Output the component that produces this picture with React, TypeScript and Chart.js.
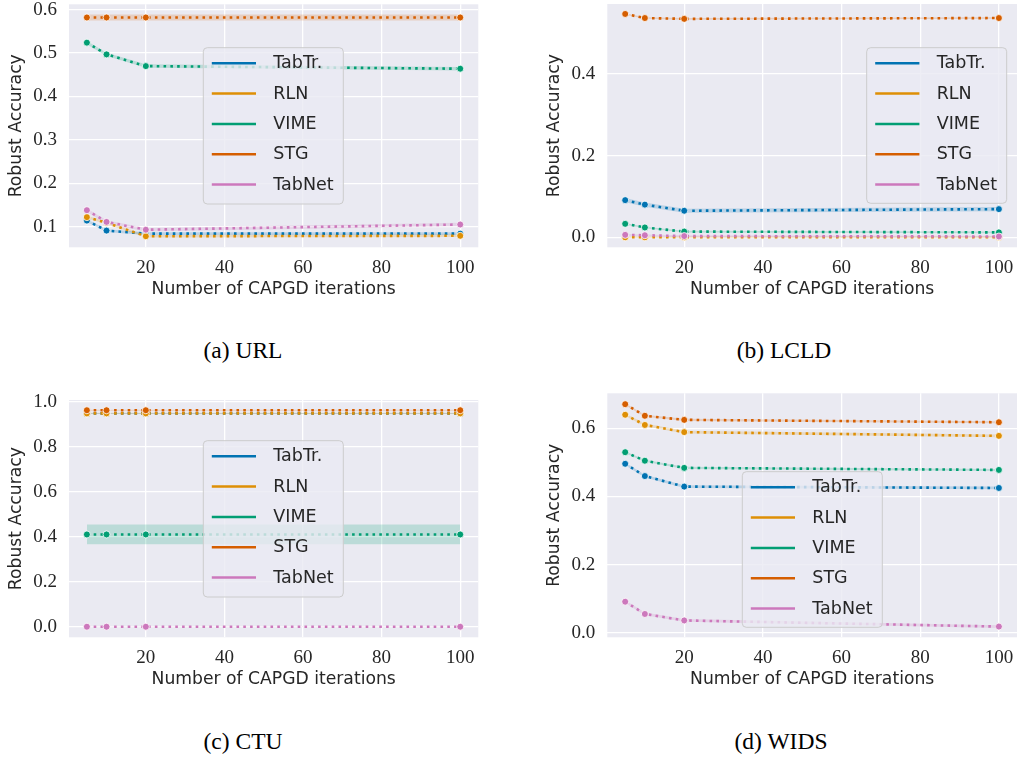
import React, { useEffect, useRef } from "react";
import { Chart, registerables } from "chart.js";

Chart.register(...registerables);

const ITERATIONS = [5, 10, 20, 100];
const MODEL_NAMES = ["TabTr.", "RLN", "VIME", "STG", "TabNet"];
const MODEL_COLORS = ["#0173B2", "#DE8F05", "#029E73", "#D55E00", "#CC78BC"];
const X_TICKS = [20, 40, 60, 80, 100];
const X_TITLE = "Number of CAPGD iterations";
const Y_TITLE = "Robust Accuracy";

// (a) URL
const URL_TABTR = [0.114, 0.091, 0.084, 0.084];
const URL_RLN = [0.122, 0.109, 0.078, 0.079];
const URL_VIME = [0.524, 0.497, 0.47, 0.464];
const URL_STG = [0.582, 0.582, 0.582, 0.582];
const URL_TABNET = [0.138, 0.111, 0.093, 0.105];
const URL_CI = [0.003, 0.003, 0.004, 0.007, 0.004];
const URL_Y_TICKS = [0.1, 0.2, 0.3, 0.4, 0.5, 0.6];

// (b) LCLD
const LCLD_TABTR = [0.091, 0.08, 0.065, 0.069];
const LCLD_RLN = [0.0, 0.0, 0.0, 0.0];
const LCLD_VIME = [0.033, 0.024, 0.014, 0.012];
const LCLD_STG = [0.547, 0.537, 0.535, 0.537];
const LCLD_TABNET = [0.006, 0.005, 0.003, 0.002];
const LCLD_CI = [0.005, 0.002, 0.002, 0.002, 0.002];
const LCLD_Y_TICKS = [0.0, 0.2, 0.4];

// (c) CTU
const CTU_TABTR = [0.948, 0.948, 0.948, 0.948];
const CTU_RLN = [0.948, 0.948, 0.948, 0.948];
const CTU_VIME = [0.41, 0.41, 0.41, 0.41];
const CTU_STG = [0.962, 0.962, 0.962, 0.962];
const CTU_TABNET = [0.0, 0.0, 0.0, 0.0];
const CTU_CI = [0.002, 0.003, 0.044, 0.002, 0.001];
const CTU_Y_TICKS = [0.0, 0.2, 0.4, 0.6, 0.8, 1.0];

// (d) WIDS
const WIDS_TABTR = [0.496, 0.46, 0.429, 0.425];
const WIDS_RLN = [0.64, 0.61, 0.589, 0.578];
const WIDS_VIME = [0.53, 0.505, 0.484, 0.478];
const WIDS_STG = [0.671, 0.637, 0.625, 0.618];
const WIDS_TABNET = [0.091, 0.055, 0.036, 0.018];
const WIDS_CI = [0.004, 0.004, 0.003, 0.003, 0.004];
const WIDS_Y_TICKS = [0.0, 0.2, 0.4, 0.6];

type Box = { x: number; y: number; w: number; h: number };
type Panel = {
  caption: string;
  series: number[][];
  ci: number[];
  yTicks: number[];
  yMin: number;
  yMax: number;
  left: number;
  top: number;
  width: number;
  height: number;
  area: { left: number; top: number; right: number; bottom: number };
  legend: Box;
  yTitleX: number;
  captionX: number;
  captionY: number;
};

const PANELS: Panel[] = [
  {
    caption: "(a) URL",
    series: [URL_TABTR, URL_RLN, URL_VIME, URL_STG, URL_TABNET],
    ci: URL_CI,
    yTicks: URL_Y_TICKS,
    yMin: 0.0525,
    yMax: 0.6124,
    left: 0,
    top: 0,
    width: 490,
    height: 310,
    area: { left: 69, top: 4.3, right: 478.3, bottom: 247.3 },
    legend: { x: 203.3, y: 47.7, w: 140, h: 156.3 },
    yTitleX: 16.6,
    captionX: 243,
    captionY: 351.7,
  },
  {
    caption: "(b) LCLD",
    series: [LCLD_TABTR, LCLD_RLN, LCLD_VIME, LCLD_STG, LCLD_TABNET],
    ci: LCLD_CI,
    yTicks: LCLD_Y_TICKS,
    yMin: -0.0245,
    yMax: 0.5714,
    left: 510,
    top: 0,
    width: 507,
    height: 310,
    area: { left: 97.3, top: 4, right: 507, bottom: 247.3 },
    legend: { x: 356.7, y: 47.7, w: 140, h: 155.6 },
    yTitleX: 45,
    captionX: 784,
    captionY: 351.7,
  },
  {
    caption: "(c) CTU",
    series: [CTU_TABTR, CTU_RLN, CTU_VIME, CTU_STG, CTU_TABNET],
    ci: CTU_CI,
    yTicks: CTU_Y_TICKS,
    yMin: -0.047,
    yMax: 1.0075,
    left: 0,
    top: 390,
    width: 490,
    height: 310,
    area: { left: 69, top: 10, right: 478.3, bottom: 247.3 },
    legend: { x: 203.3, y: 50.7, w: 140, h: 156.3 },
    yTitleX: 16.6,
    captionX: 243,
    captionY: 742.5,
  },
  {
    caption: "(d) WIDS",
    series: [WIDS_TABTR, WIDS_RLN, WIDS_VIME, WIDS_STG, WIDS_TABNET],
    ci: WIDS_CI,
    yTicks: WIDS_Y_TICKS,
    yMin: -0.0135,
    yMax: 0.703,
    left: 510,
    top: 390,
    width: 507,
    height: 310,
    area: { left: 97.3, top: 3.3, right: 507, bottom: 247.3 },
    legend: { x: 232.3, y: 81.7, w: 140, h: 155.6 },
    yTitleX: 45,
    captionX: 781,
    captionY: 742.5,
  },
];

const TEXT_COLOR = "#262626";
const SANS = '"DejaVu Sans"';
const SERIF = '"Liberation Serif", serif';

function hexToRgba(hex: string, a: number) {
  const n = parseInt(hex.slice(1), 16);
  return `rgba(${(n >> 16) & 255},${(n >> 8) & 255},${n & 255},${a})`;
}

function buildConfig(panel: Panel): any {
  const datasets: any[] = [];
  panel.series.forEach((vals, i) => {
    const c = MODEL_COLORS[i];
    const ci = panel.ci[i];
    datasets.push({
      data: vals.map((v, j) => ({ x: ITERATIONS[j], y: v + ci })),
      borderWidth: 0,
      borderColor: "rgba(0,0,0,0)",
      pointRadius: 0,
      fill: false,
      order: 100 + i * 2,
    });
    datasets.push({
      data: vals.map((v, j) => ({ x: ITERATIONS[j], y: v - ci })),
      borderWidth: 0,
      borderColor: "rgba(0,0,0,0)",
      backgroundColor: hexToRgba(c, 0.2),
      pointRadius: 0,
      fill: "-1",
      order: 100 + i * 2 + 1,
    });
  });
  panel.series.forEach((vals, i) => {
    const c = MODEL_COLORS[i];
    datasets.push({
      data: vals.map((v, j) => ({ x: ITERATIONS[j], y: v })),
      borderColor: c,
      borderWidth: 2.6,
      borderDash: [2.6, 4.2],
      borderCapStyle: "butt",
      pointRadius: 3.5,
      pointBackgroundColor: c,
      pointBorderColor: "#ffffff",
      pointBorderWidth: 0.8,
      fill: false,
      tension: 0,
      order: 10 - i,
    });
  });

  const bgPlugin = {
    id: "areaBg",
    beforeDraw(chart: any) {
      const { ctx, chartArea: a } = chart;
      ctx.save();
      ctx.fillStyle = "#EAEAF2";
      ctx.fillRect(a.left, a.top, a.right - a.left, a.bottom - a.top);
      ctx.restore();
    },
  };

  const legendPlugin = {
    id: "boxLegend",
    afterDraw(chart: any) {
      const ctx = chart.ctx;
      const { x, y, w, h } = panel.legend;
      const r = 4;
      ctx.save();
      ctx.beginPath();
      ctx.moveTo(x + r, y);
      ctx.lineTo(x + w - r, y);
      ctx.arcTo(x + w, y, x + w, y + r, r);
      ctx.lineTo(x + w, y + h - r);
      ctx.arcTo(x + w, y + h, x + w - r, y + h, r);
      ctx.lineTo(x + r, y + h);
      ctx.arcTo(x, y + h, x, y + h - r, r);
      ctx.lineTo(x, y + r);
      ctx.arcTo(x, y, x + r, y, r);
      ctx.closePath();
      ctx.fillStyle = "rgba(234,234,242,0.8)";
      ctx.fill();
      ctx.strokeStyle = "#cccccc";
      ctx.lineWidth = 1;
      ctx.stroke();
      ctx.font = `17.5px ${SANS}`;
      ctx.textBaseline = "middle";
      ctx.textAlign = "left";
      MODEL_NAMES.forEach((name, i) => {
        const cy = y + 15.6 + i * 30.3;
        ctx.beginPath();
        ctx.moveTo(x + 8.5, cy);
        ctx.lineTo(x + 52.7, cy);
        ctx.strokeStyle = MODEL_COLORS[i];
        ctx.lineWidth = 2.5;
        ctx.setLineDash([]);
        ctx.stroke();
        ctx.fillStyle = TEXT_COLOR;
        ctx.fillText(name, x + 70, cy + 0.5);
      });
      ctx.restore();
    },
  };

  const zeroPad = (s: any) => {
    s.paddingLeft = 0;
    s.paddingRight = 0;
    s.paddingTop = 0;
    s.paddingBottom = 0;
  };

  return {
    type: "line",
    data: { datasets },
    plugins: [bgPlugin, legendPlugin],
    options: {
      responsive: false,
      animation: false,
      events: [],
      layout: {
        autoPadding: false,
        padding: {
          left: 0,
          top: panel.area.top,
          right: panel.width - panel.area.right,
          bottom: 0,
        },
      },
      plugins: {
        legend: { display: false },
        tooltip: { enabled: false },
        title: { display: false },
      },
      scales: {
        x: {
          type: "linear",
          min: 0.45,
          max: 104.6,
          afterBuildTicks: (s: any) => {
            s.ticks = X_TICKS.map((v) => ({ value: v }));
          },
          afterFit: (s: any) => {
            s.height = panel.height - panel.area.bottom;
            zeroPad(s);
          },
          grid: { color: "#ffffff", lineWidth: 1.3, drawTicks: false },
          border: { display: false },
          ticks: {
            padding: 9.2,
            color: TEXT_COLOR,
            font: { family: SERIF, size: 19 },
            maxRotation: 0,
            autoSkip: false,
            callback: (v: any) => String(v),
          },
          title: {
            display: true,
            text: X_TITLE,
            color: TEXT_COLOR,
            font: { family: SANS, size: 17.2 },
            padding: { top: 0, bottom: 9.7 },
          },
        },
        y: {
          type: "linear",
          min: panel.yMin,
          max: panel.yMax,
          afterBuildTicks: (s: any) => {
            s.ticks = panel.yTicks.map((v) => ({ value: v }));
          },
          afterFit: (s: any) => {
            s.width = panel.area.left;
            zeroPad(s);
          },
          grid: { color: "#ffffff", lineWidth: 1.3, drawTicks: false },
          border: { display: false },
          ticks: {
            padding: 12,
            color: TEXT_COLOR,
            font: { family: SERIF, size: 19 },
            autoSkip: false,
            callback: (v: any) => Number(v).toFixed(1),
          },
          title: {
            display: true,
            text: Y_TITLE,
            color: TEXT_COLOR,
            font: { family: SANS, size: 17.2 },
            padding: { top: panel.yTitleX - 10.3, bottom: 0 },
          },
        },
      },
    },
  };
}

function PanelChart({ panel }: { panel: Panel }) {
  const ref = useRef<HTMLCanvasElement>(null);
  useEffect(() => {
    const chart = new Chart(ref.current as HTMLCanvasElement, buildConfig(panel));
    return () => chart.destroy();
  }, [panel]);
  return (
    <canvas
      ref={ref}
      width={panel.width}
      height={panel.height}
      style={{
        position: "absolute",
        left: panel.left,
        top: panel.top,
        width: panel.width,
        height: panel.height,
      }}
    />
  );
}

export default function App() {
  return (
    <div
      style={{
        position: "absolute",
        left: 0,
        top: 0,
        width: 1017,
        height: 759,
        background: "#ffffff",
        overflow: "hidden",
      }}
    >
      {PANELS.map((p) => (
        <PanelChart key={p.caption} panel={p} />
      ))}
      {PANELS.map((p) => (
        <div
          key={p.caption + "-cap"}
          style={{
            position: "absolute",
            left: p.captionX - 100,
            top: p.captionY - 2 - 15,
            width: 200,
            height: 30,
            lineHeight: "30px",
            textAlign: "center",
            fontFamily: "'Liberation Serif', serif",
            fontSize: 23.5,
            color: "#000",
          }}
        >
          {p.caption}
        </div>
      ))}
    </div>
  );
}
